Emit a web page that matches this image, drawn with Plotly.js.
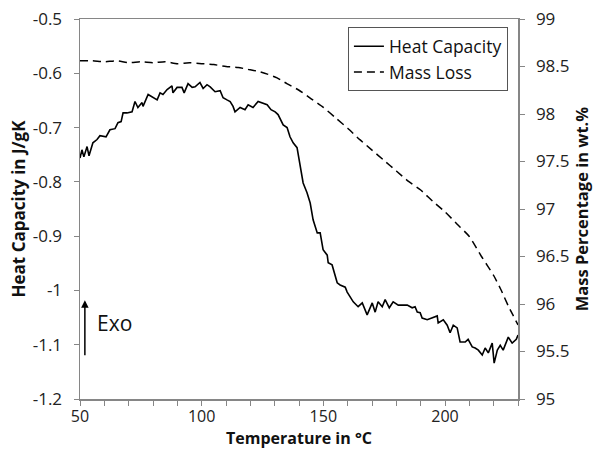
<!DOCTYPE html>
<html>
<head>
<meta charset="utf-8">
<script src="https://cdn.plot.ly/plotly-3.0.1.min.js"></script>
<style>html,body{margin:0;padding:0;background:#fff;}#chart{width:595px;height:449px;}</style>
</head>
<body>
<div id="chart"></div>
<script>
// Heat capacity (J/gK) vs temperature (°C)
const hcTemp = [50.0,50.8,51.6,52.9,53.7,55.3,57.0,58.2,60.7,62.3,64.4,65.6,66.9,67.7,69.3,71.4,72.6,73.8,75.5,75.9,78.0,80.0,81.7,82.9,84.1,85.8,87.8,88.2,89.9,91.9,92.8,94.4,96.1,97.3,99.3,100.6,102.2,103.5,105.5,107.6,108.8,110.4,111.7,112.9,113.7,115.8,117.8,119.1,121.1,123.2,125.2,126.9,128.5,130.2,131.4,133.5,135.1,136.3,137.6,139.2,141.7,143.3,144.6,145.8,147.5,148.7,149.9,151.6,152.0,153.6,155.7,156.9,159.0,159.8,162.3,164.3,166.0,168.0,170.1,171.3,172.5,174.2,175.4,177.1,178.7,180.8,184.5,186.5,187.7,188.6,189.8,190.6,192.7,194.7,196.8,197.2,199.3,200.9,202.1,203.4,205.0,206.2,208.3,209.5,211.2,212.4,213.7,215.3,216.5,217.8,219.4,220.2,221.5,222.7,223.9,226.0,227.6,229.3,230.0];
const hcValue = [-0.756,-0.741,-0.754,-0.735,-0.752,-0.728,-0.722,-0.715,-0.717,-0.704,-0.702,-0.691,-0.689,-0.673,-0.673,-0.671,-0.652,-0.663,-0.654,-0.661,-0.639,-0.645,-0.649,-0.636,-0.639,-0.630,-0.623,-0.636,-0.626,-0.626,-0.636,-0.619,-0.626,-0.625,-0.617,-0.628,-0.621,-0.625,-0.634,-0.632,-0.645,-0.649,-0.652,-0.661,-0.671,-0.663,-0.667,-0.658,-0.663,-0.652,-0.656,-0.658,-0.667,-0.671,-0.676,-0.695,-0.700,-0.717,-0.728,-0.737,-0.802,-0.820,-0.839,-0.870,-0.894,-0.894,-0.925,-0.935,-0.949,-0.953,-0.986,-0.990,-0.994,-1.003,-1.021,-1.030,-1.023,-1.045,-1.023,-1.040,-1.021,-1.030,-1.017,-1.032,-1.021,-1.027,-1.027,-1.032,-1.030,-1.040,-1.041,-1.051,-1.054,-1.051,-1.047,-1.060,-1.054,-1.064,-1.078,-1.064,-1.069,-1.095,-1.095,-1.090,-1.104,-1.106,-1.110,-1.119,-1.106,-1.115,-1.097,-1.134,-1.110,-1.101,-1.110,-1.086,-1.097,-1.090,-1.082];

// Mass percentage (wt.%) vs temperature (°C)
const mlTemp = [50,55,60,65,70,75,80,85,90,95,100,105,110,115,119,123,127,131,135,140,145,150,155,160,165,170,175,180,185,190,195,200,205,210,215,220,223,226,228,230];
const mlValue = [98.56,98.56,98.55,98.56,98.54,98.55,98.54,98.55,98.53,98.54,98.53,98.52,98.50,98.49,98.47,98.45,98.42,98.38,98.32,98.25,98.16,98.07,97.96,97.85,97.73,97.62,97.51,97.40,97.29,97.20,97.08,96.97,96.84,96.71,96.50,96.30,96.15,95.98,95.88,95.78];

const xTickVals = [50,100,150,200];
const xTickText = ['50','100','150','200'];
const xMinorVals = [60,70,80,90,110,120,130,140,160,170,180,190,210,220,230];
const yLeftVals = [-1.2,-1.1,-1.0,-0.9,-0.8,-0.7,-0.6,-0.5];
const yLeftText = ['-1.2','-1.1','-1','-0.9','-0.8','-0.7','-0.6','-0.5'];
const yRightVals = [95,95.5,96,96.5,97,97.5,98,98.5,99];
const yRightText = ['95','95.5','96','96.5','97','97.5','98','98.5','99'];

const FONT = '"Open Sans", "Liberation Sans", sans-serif';
const AXC = '#868686';

const traces = [
  {x: hcTemp, y: hcValue, name: 'Heat Capacity', type: 'scatter', mode: 'lines',
   line: {color: '#000', width: 1.6}, yaxis: 'y'},
  {x: mlTemp, y: mlValue, name: 'Mass Loss', type: 'scatter', mode: 'lines',
   line: {color: '#000', width: 1.5, dash: '8px,5px', shape: 'spline', smoothing: 0.6}, yaxis: 'y2'}
];

const layout = {
  width: 595, height: 449,
  margin: {l: 80, r: 77, t: 19, b: 50},
  paper_bgcolor: '#fff', plot_bgcolor: '#fff',
  font: {family: FONT, color: '#222', size: 17},
  showlegend: true,
  legend: {x: 0.977, y: 0.978, xanchor: 'right', yanchor: 'top',
           bordercolor: '#555', borderwidth: 1, bgcolor: '#fff', itemwidth: 30,
           font: {family: FONT, size: 17.5, color: '#111'}, tracegroupgap: 0},
  xaxis: {range: [50, 230], tickvals: xTickVals, ticktext: xTickText,
          ticks: 'outside', ticklen: 5, tickcolor: AXC, showgrid: false, zeroline: false,
          showline: true, linecolor: AXC, linewidth: 1.5, mirror: true, automargin: false,
          minor: {tickvals: xMinorVals, ticks: 'outside', ticklen: 5, tickcolor: AXC},
          tickfont: {size: 16, color: '#222'}, ticklabelstandoff: -3,
          title: {text: '<b>Temperature in °C</b>', font: {size: 16, color: '#111'}}},
  yaxis: {range: [-1.2, -0.5], tickvals: yLeftVals, ticktext: yLeftText,
          ticks: 'outside', ticklen: 5, tickcolor: AXC, showgrid: false, zeroline: false,
          showline: true, linecolor: AXC, linewidth: 1.5,
          tickfont: {size: 17, color: '#222'}, ticklabelstandoff: 8,
          title: {text: '<b>Heat Capacity in J/gK</b>', font: {size: 17, color: '#111'}, standoff: 3}},
  yaxis2: {range: [95, 99], tickvals: yRightVals, ticktext: yRightText, overlaying: 'y', side: 'right',
          ticks: 'outside', ticklen: 5, tickcolor: AXC, showgrid: false, zeroline: false,
          showline: true, linecolor: AXC, linewidth: 1.5,
          tickfont: {size: 17, color: '#222'}, ticklabelstandoff: 8,
          title: {text: '<b>Mass Percentage in wt.%</b>', font: {size: 16.5, color: '#111'}, standoff: 6}},
  annotations: [
    {x: 52, y: -1.018, ax: 52, ay: -1.122, xref: 'x', yref: 'y', axref: 'x', ayref: 'y',
     text: '', showarrow: true, arrowhead: 2, arrowsize: 1, arrowwidth: 1.5, arrowcolor: '#000',
     standoff: 0, startstandoff: 0},
    {x: 56.3, y: -1.06, xref: 'x', yref: 'y', xanchor: 'left', yanchor: 'middle',
     text: 'Exo', showarrow: false, font: {size: 21, color: '#111', family: FONT}}
  ]
};

Plotly.newPlot('chart', traces, layout, {displayModeBar: false, staticPlot: true});
</script>
</body>
</html>
